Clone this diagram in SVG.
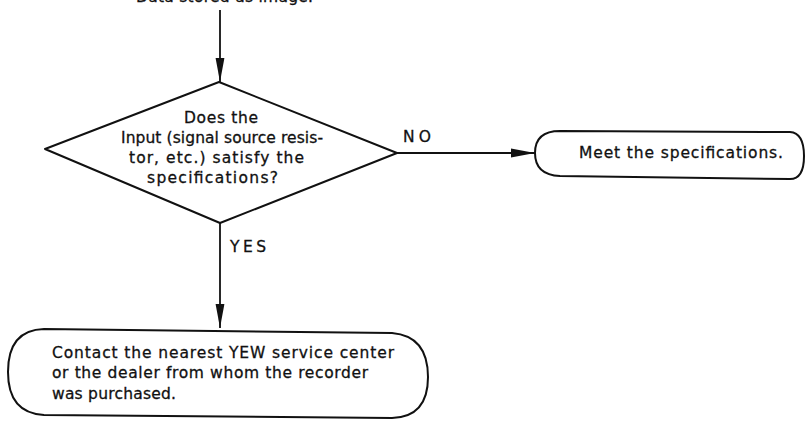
<svg xmlns="http://www.w3.org/2000/svg" width="805" height="422" viewBox="0 0 805 422">
  <style>
    .shape { fill: #ffffff; stroke: #111111; stroke-width: 2; stroke-linejoin: round; }
    .wire { fill: none; stroke: #111111; stroke-width: 1.8; }
    .lbl { font-family: "DejaVu Sans", "Liberation Sans", sans-serif; font-size: 15.5px; fill: #111111; stroke: #111111; stroke-width: 0.3; }
  </style>
  <defs>
    <marker id="arrow" viewBox="0 0 24 10" markerWidth="24" markerHeight="10" refX="24" refY="5" orient="auto" markerUnits="userSpaceOnUse">
      <path d="M0,0.6 L24,5 L0,9.4 Z" fill="#111111"/>
    </marker>
  </defs>
  <rect width="805" height="422" fill="#ffffff"/>

  <!-- caption running in from the step above (top edge) -->
  <text class="lbl" x="136" y="1.5" textLength="177" lengthAdjust="spacing">Data stored as image.</text>

  <g id="connectors">
    <line class="wire" x1="220" y1="10" x2="220" y2="82" marker-end="url(#arrow)"/>
    <line class="wire" x1="397" y1="153" x2="535" y2="153" marker-end="url(#arrow)"/>
    <line class="wire" x1="220" y1="223" x2="220" y2="328" marker-end="url(#arrow)"/>
    <text class="lbl" x="403" y="142" textLength="28" lengthAdjust="spacing">NO</text>
    <text class="lbl" x="230" y="252" textLength="36" lengthAdjust="spacing">YES</text>
  </g>

  <g id="decision">
    <polygon class="shape" points="219,82 45,149 220,223 397,153"/>
    <text class="lbl" x="184" y="123" textLength="74" lengthAdjust="spacing">Does the</text>
    <text class="lbl" x="121" y="143" textLength="202" lengthAdjust="spacing">Input (signal source resis-</text>
    <text class="lbl" x="129" y="163" textLength="175" lengthAdjust="spacing">tor, etc.) satisfy the</text>
    <text class="lbl" x="147" y="183" textLength="131" lengthAdjust="spacing">specifications?</text>
  </g>

  <g id="meet-spec">
    <path class="shape" d="M560,131 L790,132 Q804,133 804,156 Q804,179 790,179 L560,176 Q535,175 535,153 Q535,131 560,131 Z"/>
    <text class="lbl" x="579" y="158" textLength="204" lengthAdjust="spacing">Meet the specifications.</text>
  </g>

  <g id="contact-service">
    <path class="shape" d="M44,329 L392,333 Q428,336 428,377 Q428,417 392,418 L44,415 Q8,413 8,372 Q8,330 44,329 Z"/>
    <text class="lbl" x="52" y="358" textLength="342" lengthAdjust="spacing">Contact the nearest YEW service center</text>
    <text class="lbl" x="52" y="378" textLength="316" lengthAdjust="spacing">or the dealer from whom the recorder</text>
    <text class="lbl" x="52" y="399" textLength="124" lengthAdjust="spacing">was purchased.</text>
  </g>
</svg>
